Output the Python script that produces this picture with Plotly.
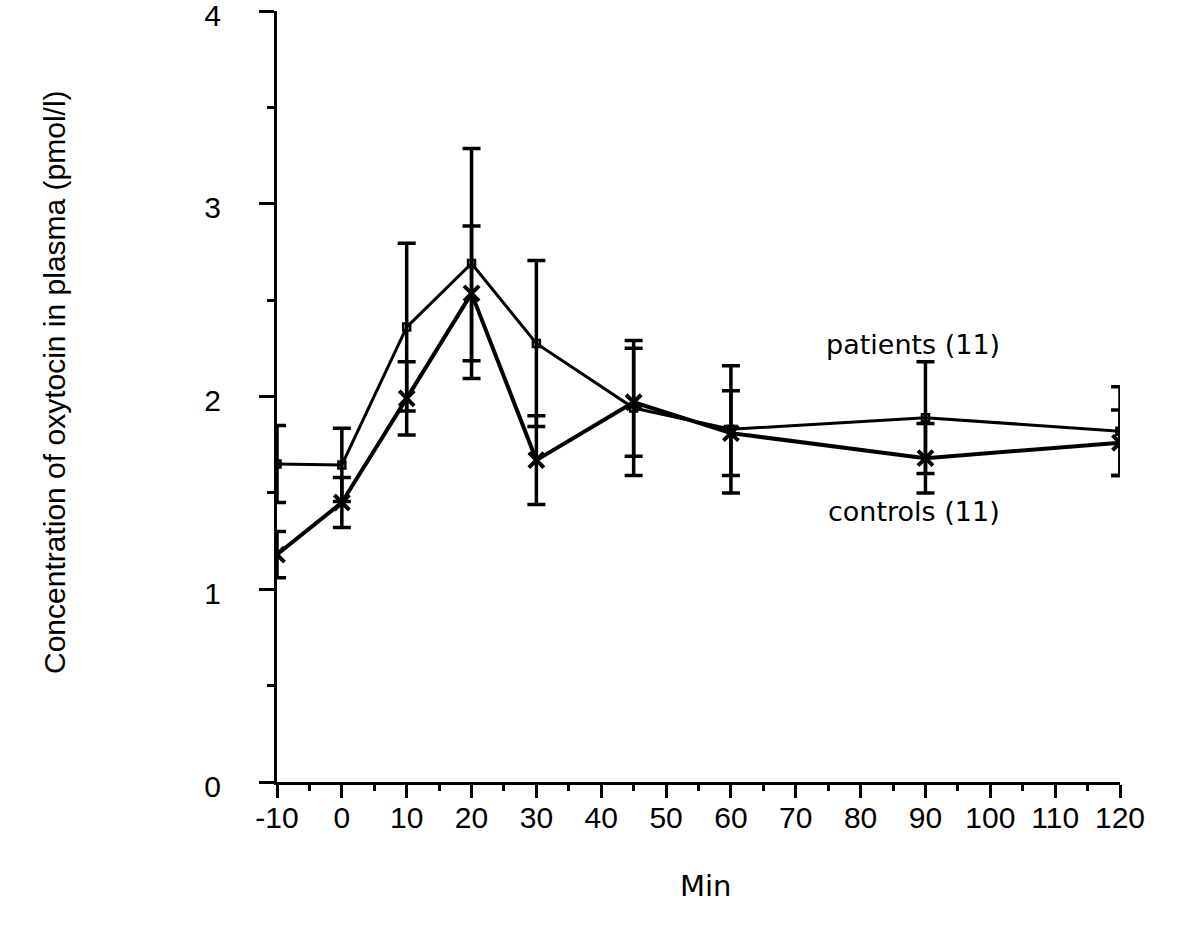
import plotly.graph_objects as go

minutes = [-10, 0, 10, 20, 30, 45, 60, 90, 120]
patients = [1.65, 1.645, 2.36, 2.69, 2.275, 1.94, 1.83, 1.89, 1.82]
patients_err = [0.20, 0.19, 0.435, 0.597, 0.43, 0.35, 0.33, 0.29, 0.23]
controls = [1.18, 1.45, 1.99, 2.535, 1.67, 1.97, 1.81, 1.68, 1.76]
controls_err = [0.12, 0.13, 0.19, 0.35, 0.23, 0.28, 0.22, 0.18, 0.17]
x_ticks = [-10, 0, 10, 20, 30, 40, 50, 60, 70, 80, 90, 100, 110, 120]
y_ticks = [0, 1, 2, 3, 4]

SANS = "Liberation Sans, Arial, Helvetica, sans-serif"
WIDE = "DejaVu Sans, Verdana, sans-serif"

# plot area in the screenshot: x 277..1120, y 11..782
L, R, T, B = 277, 1120, 11, 782
PW, PH = R - L, B - T


def px(x):
    return (x - L) / PW


def py(y):
    return (B - y) / PH


fig = go.Figure()
fig.add_trace(go.Scatter(
    x=minutes, y=patients, mode="lines+markers", name="patients (11)",
    line=dict(color="black", width=3),
    marker=dict(symbol="square-open", size=7, color="black", line=dict(width=2.5)),
    error_y=dict(type="data", array=patients_err, visible=True, color="black", thickness=3.5, width=9),
))
fig.add_trace(go.Scatter(
    x=minutes, y=controls, mode="lines+markers", name="controls (11)",
    line=dict(color="black", width=4),
    marker=dict(symbol="x-thin-open", size=15, color="black", line=dict(width=4, color="black")),
    error_y=dict(type="data", array=controls_err, visible=True, color="black", thickness=3.5, width=9),
))

fig.add_annotation(xref="paper", yref="paper", x=px(913), y=py(344),
                   text="patients (11)", showarrow=False, font=dict(size=27, color="black", family=WIDE),
                   xanchor="center", yanchor="middle")
fig.add_annotation(xref="paper", yref="paper", x=px(914), y=py(511),
                   text="controls (11)", showarrow=False, font=dict(size=27, color="black", family=WIDE),
                   xanchor="center", yanchor="middle")
fig.add_annotation(xref="paper", yref="paper", x=px(705), y=py(886),
                   text="Min", showarrow=False, font=dict(size=29, color="black", family=WIDE),
                   xanchor="center", yanchor="middle")
fig.add_annotation(xref="paper", yref="paper", x=px(55), y=py(382),
                   text="Concentration of oxytocin in plasma (pmol/l)", showarrow=False, textangle=-90,
                   font=dict(size=30, color="black", family=SANS),
                   xanchor="center", yanchor="middle")

fig.update_layout(
    width=1196, height=951,
    margin=dict(l=L, r=1196 - R, t=T, b=951 - B, autoexpand=False),
    plot_bgcolor="white", paper_bgcolor="white",
    showlegend=False,
    font=dict(family=SANS, size=30, color="black"),
)
fig.update_xaxes(
    range=[-10, 120], tickvals=x_ticks, ticktext=[str(v) for v in x_ticks],
    showgrid=False, zeroline=False, showline=True, linecolor="black", linewidth=3,
    ticks="outside", ticklen=13, tickwidth=3, tickcolor="black", ticklabelstandoff=-6,
    ticklabeloverflow="allow", automargin=False,
    minor=dict(dtick=5, tick0=-10, ticks="outside", ticklen=6, tickwidth=3, tickcolor="black", showgrid=False),
)
fig.update_yaxes(
    range=[0, 4], tickvals=y_ticks, ticktext=[str(v) for v in y_ticks],
    showgrid=False, zeroline=False, showline=True, linecolor="black", linewidth=3,
    ticks="outside", ticklen=15, tickwidth=3, tickcolor="black", ticklabelstandoff=32,
    ticklabelshift=4,
    ticklabeloverflow="allow", automargin=False,
    minor=dict(dtick=0.5, tick0=0, ticks="outside", ticklen=7, tickwidth=3, tickcolor="black", showgrid=False),
)

fig.write_html("out.html", config={"displayModeBar": False},
               post_script="document.body.style.margin='0';")
